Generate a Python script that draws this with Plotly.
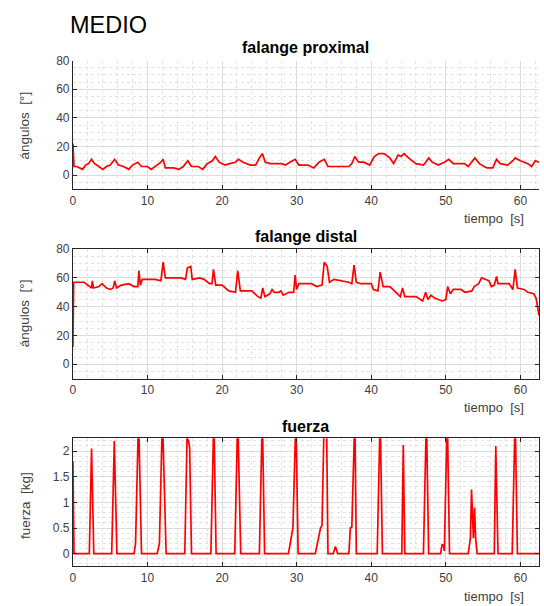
import plotly.graph_objects as go

# ---- data -------------------------------------------------------------
t_proximal = [
    0, 0.15, 0.5, 1.0, 1.3, 1.7, 2.1, 2.5, 2.9, 3.5,
    4.0, 4.5, 5.0, 5.6, 6.1, 6.8, 7.5, 8.0, 8.7, 9.2,
    10.0, 10.5, 11.0, 11.8, 12.1, 12.4, 13.5, 14.2, 14.8, 15.4,
    15.9, 16.8, 17.4, 18.0, 18.7, 19.1, 19.6, 20.4, 21.0, 21.8,
    22.2, 22.8, 23.8, 24.5, 25.0, 25.4, 25.8, 26.5, 28.0, 28.5,
    29.1, 29.8, 30.3, 31.5, 32.3, 33.0, 33.7, 34.2, 35.0, 36.0,
    37.0, 37.4, 37.8, 38.3, 39.0, 39.8, 40.4, 41.0, 41.7, 42.5,
    43.0, 43.6, 44.0, 44.4, 45.0, 46.0, 47.0, 47.3, 47.7, 48.2,
    49.0, 49.8, 50.4, 51.0, 52.5, 53.0, 53.5, 53.9, 54.5, 55.5,
    56.3, 56.8, 57.3, 58.3, 59.0, 59.3, 60.0, 61.0, 61.5, 62.0,
    62.5,
]
ang_proximal = [
    22, 6, 6, 5, 4, 7, 8, 11, 8, 6,
    4, 6, 7, 11, 7, 6, 4, 7, 9, 6,
    6, 4, 6, 9, 11, 5, 5, 4, 6, 10,
    6, 6, 4, 8, 10, 13, 9, 7, 8, 9,
    11, 9, 7, 7, 12, 15, 9, 8, 8, 7,
    9, 11, 7, 7, 5, 9, 11, 6, 6, 6,
    6, 8, 13, 9, 9, 7, 13, 15, 15, 12,
    8, 14, 13, 15, 12, 8, 7, 9, 12, 9,
    7, 9, 11, 8, 8, 6, 9, 12, 8, 5,
    5, 11, 8, 7, 10, 12, 10, 8, 6, 10,
    9,
]

t_distal = [
    0, 0.1, 0.5, 1.5, 2.0, 2.5, 2.6, 2.75, 3.5, 3.9,
    4.5, 5.0, 5.4, 5.6, 5.85, 6.5, 7.5, 8.2, 8.7, 8.85,
    9.05, 9.3, 11.0, 11.8, 12.1, 12.4, 14.5, 15.1, 15.35, 15.8,
    16.0, 17.0, 17.6, 18.3, 18.65, 18.85, 19.15, 20.0, 20.9, 21.8,
    22.1, 22.45, 24.0, 24.8, 25.2, 25.45, 25.75, 26.4, 26.7, 27.0,
    27.6, 27.9, 28.2, 29.0, 29.6, 29.8, 30.0, 30.3, 32.0, 32.7,
    33.4, 33.7, 34.1, 34.4, 35.0, 36.0, 37.0, 37.4, 37.7, 38.0,
    38.6, 40.0, 40.3, 40.9, 41.2, 41.6, 42.5, 43.1, 43.9, 44.2,
    44.5, 46.0, 46.9, 47.3, 47.6, 48.0, 48.5, 49.5, 50.0, 50.25,
    50.6, 51.0, 52.0, 52.6, 53.5, 53.8, 54.4, 54.8, 55.8, 56.1,
    56.5, 56.8, 57.0, 58.5, 59.0, 59.3, 59.6, 60.5, 61.0, 61.8,
    62.1, 62.5,
]
ang_distal = [
    12, 57, 57, 57, 55, 53, 58, 53, 54, 56,
    53, 52, 53, 58, 53, 55, 56, 54, 54, 65,
    55, 59, 59, 58, 71, 60, 60, 59, 67, 68,
    59, 60, 59, 56, 56, 66, 55, 55, 51, 50,
    65, 51, 51, 47, 46, 53, 47, 49, 52, 50,
    50, 51, 48, 50, 50, 62, 52, 56, 56, 54,
    55, 71, 68, 57, 59, 58, 57, 56, 69, 57,
    56, 56, 52, 51, 64, 54, 54, 51, 47, 53,
    47, 47, 44, 50, 45, 48, 46, 44, 45, 54,
    49, 52, 52, 50, 51, 54, 56, 60, 58, 54,
    55, 61, 56, 56, 52, 66, 53, 52, 50, 49,
    46, 34,
]

t_fuerza = [
    0, 0.15, 2.2, 2.5, 2.8, 5.2, 5.55, 5.9, 8.2, 8.4,
    8.8, 9.2, 11.3, 11.6, 12.0, 12.5, 15.0, 15.3, 15.5, 15.65,
    15.9, 18.5, 18.9, 19.2, 21.7, 22.1, 22.5, 25.0, 25.4, 25.7,
    28.9, 29.3, 29.5, 29.9, 30.2, 32.5, 33.2, 33.4, 33.7, 34.0,
    34.2, 34.9, 35.2, 35.5, 37.0, 37.2, 37.4, 37.8, 38.0, 40.8,
    41.2, 41.5, 44.1, 44.3, 44.5, 47.0, 47.4, 47.7, 49.3, 49.5,
    49.7, 49.8, 50.2, 50.5, 53.0, 53.3, 53.45, 53.7, 53.85, 54.0,
    54.2, 56.5, 56.7, 57.0, 58.9, 59.3, 59.6, 62.5,
]
fuerza_kg = [
    1.8, 0, 0, 2.05, 0, 0, 2.2, 0, 0, 0.2,
    2.7, 0, 0, 0.2, 2.7, 0, 0, 2.25, 2.2, 2.07,
    0, 0, 2.7, 0, 0, 2.7, 0, 0, 2.7, 0,
    0, 0.4, 0.5, 2.7, 0, 0, 0.5, 0.55, 2.7, 2.7,
    0, 0, 0.14, 0, 0, 0.5, 0.52, 2.7, 0, 0,
    2.7, 0, 0, 2.12, 0, 0, 2.7, 0, 0, 0.18,
    0.15, 0.05, 2.7, 0, 0, 0.3, 1.25, 0.3, 0.9, 0.3,
    0, 0, 2.1, 0, 0, 2.7, 0, 0,
]

x_ticks = [0, 10, 20, 30, 40, 50, 60]
ang_ticks = [0, 20, 40, 60, 80]
fuerza_ticks = [0, 0.5, 1, 1.5, 2]

# ---- figure -----------------------------------------------------------
W, H = 544, 606
FONT = "Liberation Sans, Arial, Helvetica, sans-serif"
AX = "#262626"
TXT = "#404040"
RED = "#ff0000"


def px(x):
    return x / W


def py(y):
    return 1 - y / H


x_dom = [px(70.3), px(539)]
panels = [
    dict(top=54.3, bot=184.5, yr=[-10, 80], yt=ang_ticks, ym=5, box=False),
    dict(top=245, bot=376, yr=[-10, 80], yt=ang_ticks, ym=5, box=True),
    dict(top=436.3, bot=566, yr=[-0.25, 2.25], yt=fuerza_ticks, ym=0.1, box=True),
]

series = [(t_proximal, ang_proximal), (t_distal, ang_distal), (t_fuerza, fuerza_kg)]

fig = go.Figure()
layout = dict(
    width=W, height=H,
    margin=dict(l=0, r=0, t=0, b=0),
    paper_bgcolor="white", plot_bgcolor="white",
    showlegend=False,
    font=dict(family=FONT, size=12, color=TXT),
)

for i, (p, (tx, ty)) in enumerate(zip(panels, series), start=1):
    sfx = "" if i == 1 else str(i)
    fig.add_trace(go.Scatter(
        x=tx, y=ty, mode="lines",
        line=dict(color=RED, width=1.7),
        xaxis="x" + sfx, yaxis="y" + sfx,
        hoverinfo="skip",
    ))
    mirror = "ticks" if p["box"] else False
    layout["xaxis" + sfx] = dict(
        domain=x_dom, anchor="y" + sfx, range=[0, 62.5],
        tickvals=x_ticks, ticks="inside", ticklen=4, tickcolor=AX,
        showline=True, linecolor=AX, linewidth=1, mirror=mirror,
        showgrid=True, gridcolor="#dcdcdc", gridwidth=1,
        minor=dict(dtick=2, tick0=0, showgrid=True, gridcolor="#e2e2e2",
                   griddash="dot", ticks=""),
        zeroline=False, tickfont=dict(size=12, color=TXT),
    )
    layout["yaxis" + sfx] = dict(
        domain=[py(p["bot"]), py(p["top"])], anchor="x" + sfx, range=p["yr"],
        tickvals=p["yt"], ticks="inside", ticklen=4, tickcolor=AX,
        showline=True, linecolor=AX, linewidth=1, mirror=mirror,
        showgrid=True, gridcolor="#dcdcdc", gridwidth=1,
        minor=dict(dtick=p["ym"], tick0=0, showgrid=True, gridcolor="#e2e2e2",
                   griddash="dot", ticks=""),
        zeroline=False, tickfont=dict(size=12, color=TXT),
    )

ann = []
ann.append(dict(text="MEDIO", x=px(65), y=py(18), xanchor="left", yanchor="middle",
                font=dict(size=23.5, color="#000000")))
for title, yy in [("falange proximal", 41), ("falange distal", 232), ("fuerza", 424)]:
    ann.append(dict(text="<b>" + title + "</b>", x=px(304.6), y=py(yy),
                    xanchor="center", yanchor="middle",
                    font=dict(size=16, color="#000000")))
for yy in [214, 405, 596]:
    ann.append(dict(text="tiempo  [s]", x=px(526), y=py(yy), xanchor="right",
                    yanchor="middle", font=dict(size=13, color=TXT)))
for label, yy in [("ángulos  [°]", 120), ("ángulos  [°]", 310), ("fuerza  [kg]", 504)]:
    ann.append(dict(text=label, x=px(22), y=py(yy), xanchor="center", yanchor="middle",
                    textangle=-90, font=dict(size=13.5, color=TXT)))
for a in ann:
    a.update(xref="paper", yref="paper", showarrow=False)
layout["annotations"] = ann

fig.update_layout(**layout)
fig.write_html("out.html")
